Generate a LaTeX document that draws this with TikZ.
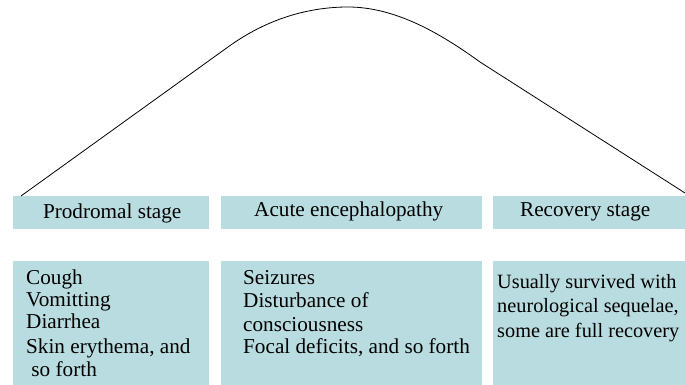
\documentclass[tikz,border=0pt]{standalone}
\usepackage{fontspec}
\setmainfont{Liberation Serif}
\usepackage{xcolor}
\usepackage{tikz}
\usetikzlibrary{positioning}

\definecolor{stagefill}{RGB}{185,220,224}

\tikzset{
    stagebox/.style={fill=stagefill, inner sep=0pt, anchor=north west},
    stagelabel/.style={font=\fontsize{21.2}{23}\selectfont},
    symptomtext/.style={font=\fontsize{21.2}{23.5}\selectfont, align=left,
        inner sep=0pt, anchor=north west},
}

\begin{document}
\begin{tikzpicture}[x=1pt, y=-1pt]
    \useasboundingbox (0,0) rectangle (685,385);
    % Stage headers
    \node[stagebox, minimum width=196pt, minimum height=33pt] (prodromal) at (13,196) {};
    \node[stagebox, minimum width=261pt, minimum height=33pt] (acute) at (221,196) {};
    \node[stagebox, minimum width=192pt, minimum height=33pt] (recovery) at (493,196) {};
    \node[stagelabel] at ([xshift=1pt, yshift=-1pt]prodromal.center) {Prodromal stage};
    \node[stagelabel] at ([xshift=-3pt, yshift=1pt]acute.center) {Acute encephalopathy};
    \node[stagelabel] at ([xshift=-4pt, yshift=1pt]recovery.center) {Recovery stage};
    % Symptom boxes
    \node[stagebox, minimum width=196pt, minimum height=124pt] (prodromalbox) at (13,261) {};
    \node[stagebox, minimum width=261pt, minimum height=124pt] (acutebox) at (221,261) {};
    \node[stagebox, minimum width=192pt, minimum height=124pt] (recoverybox) at (493,261) {};
    \node[symptomtext] (prodromaltxt) at (26,270)
        {Cough\\[-1.5pt] Vomitting\\[-2pt] Diarrhea\\[1.5pt] Skin erythema, and\\ \ so forth};
    \node[symptomtext] (acutetxt) at (243,270)
        {Seizures\\ Disturbance of\\ consciousness\\[-1.5pt] Focal deficits, and so forth};
    \node[symptomtext, font=\fontsize{20.3}{23.5}\selectfont] (recoverytxt) at (497,274)
        {Usually survived with\\[1pt] neurological sequelae,\\[1pt] some are full recovery};
    % Disease course curve
    \coordinate (onset) at (21,196);
    \coordinate (rise) at (228,47);
    \coordinate (peak) at (348,7);
    \coordinate (fall) at (480,62);
    \coordinate (resolve) at (685,193);
    \draw[line width=0.8pt] (onset) -- (rise)
        .. controls (268,18) and (310,7) .. (peak)
        .. controls (395,7) and (440,33) .. (fall) -- (resolve);
\end{tikzpicture}
\end{document}
